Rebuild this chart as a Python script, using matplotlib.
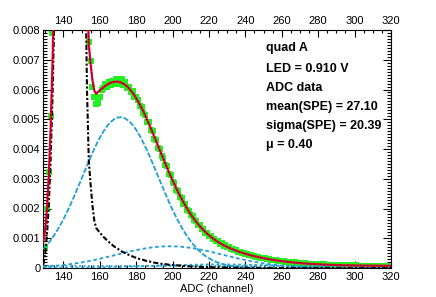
import numpy as np
import matplotlib
matplotlib.use("Agg")
import matplotlib.pyplot as plt
from matplotlib.ticker import MultipleLocator, FuncFormatter

plt.rcParams['font.family'] = ['Liberation Sans', 'DejaVu Sans']

SCALE = 1e-3  # values below are in units of 1e-3

# ---- data histogram (ADC channel, normalized counts) ----
data_x = np.arange(130, 321)
data_y = [
    0.72, 2.0, 3.24, 5.1, 7.9, 9.8, 13.4, 17.2, 22.3, 26.4,
    31.0, 35.2, 37.8, 40.5, 40.6, 40.9, 38.4, 36.1, 31.7, 27.9,
    23.0, 19.2, 13.8, 9.9, 7.6, 6.95, 6.1, 5.75, 5.5, 5.55,
    5.75, 6.0, 6.05, 6.2, 6.1, 6.25, 6.15, 6.3, 6.2, 6.35,
    6.3, 6.2, 6.35, 6.15, 6.25, 6.05, 6.1, 5.9, 5.95, 5.75,
    5.75, 5.65, 5.45, 5.42, 5.2, 5.15, 4.9, 4.9, 4.65, 4.6,
    4.35, 4.3, 4.05, 4.0, 3.75, 3.7, 3.45, 3.42, 3.15, 3.12,
    2.88, 2.85, 2.62, 2.6, 2.4, 2.36, 2.15, 2.14, 1.95, 1.93,
    1.77, 1.74, 1.6, 1.58, 1.45, 1.43, 1.31, 1.3, 1.19, 1.18,
    1.08, 1.08, 0.98, 0.98, 0.9, 0.9, 0.82, 0.83, 0.75, 0.76,
    0.69, 0.7, 0.64, 0.65, 0.59, 0.6, 0.54, 0.55, 0.5, 0.51,
    0.46, 0.47, 0.43, 0.44, 0.4, 0.41, 0.37, 0.38, 0.34, 0.35,
    0.32, 0.33, 0.3, 0.31, 0.28, 0.28, 0.26, 0.26, 0.24, 0.25,
    0.22, 0.23, 0.21, 0.21, 0.2, 0.2, 0.18, 0.19, 0.17, 0.18,
    0.16, 0.17, 0.15, 0.16, 0.14, 0.15, 0.13, 0.14, 0.13, 0.13,
    0.12, 0.13, 0.11, 0.12, 0.11, 0.11, 0.1, 0.11, 0.1, 0.1,
    0.09, 0.1, 0.09, 0.1, 0.09, 0.09, 0.08, 0.09, 0.08, 0.09,
    0.08, 0.09, 0.08, 0.08, 0.08, 0.08, 0.07, 0.08, 0.07, 0.08,
    0.07, 0.08, 0.07, 0.07, 0.07, 0.08, 0.07, 0.07, 0.07, 0.07,
    0.07,
]

# ---- fit curves ----
fit_x = np.concatenate([np.arange(129, 161), np.arange(162, 321, 2)])

pedestal = [
    0.12, 0.45, 1.1, 2.1, 3.6, 5.6, 8.3, 11.8, 16, 20.5, 25, 29, 33, 36, 38, 38.5,
    38, 36, 33, 29, 24.5, 20, 15.5, 10.5, 6.0, 3.6, 2.8, 2.1, 1.6, 1.35, 1.27, 1.19,
    1.05, 0.93, 0.82, 0.72, 0.64, 0.56, 0.50, 0.44, 0.39, 0.34,
    0.30, 0.27, 0.23, 0.21, 0.18, 0.16, 0.14, 0.13, 0.11, 0.10,
    0.09, 0.08, 0.07, 0.06, 0.05, 0.046, 0.041, 0.036, 0.032, 0.028,
    0.025, 0.022, 0.019, 0.017, 0.015, 0.013, 0.012, 0.010, 0.009, 0.008,
    0.007, 0.006, 0.005, 0.005, 0.004, 0.004, 0.003, 0.003, 0.003, 0.002,
    0.002, 0.002, 0.002, 0.001, 0.001, 0.001, 0.001, 0.001, 0.001, 0.001,
    0.001, 0.001, 0.001, 0.0, 0.0, 0.0, 0.0, 0.0, 0.0, 0.0,
    0.0, 0.0, 0.0, 0.0, 0.0, 0.0, 0.0, 0.0, 0.0, 0.0,
]

pe1 = [
    0.641, 0.706, 0.776, 0.850, 0.930, 1.015, 1.105, 1.201, 1.301, 1.407, 1.518,
    1.634, 1.754, 1.879, 2.009, 2.142, 2.279, 2.419, 2.562, 2.707, 2.853, 3.001,
    3.148, 3.296, 3.442, 3.587, 3.729, 3.868, 4.003, 4.133, 4.256, 4.374,
    4.587, 4.767, 4.908, 5.007, 5.060, 5.067, 5.027, 4.942, 4.813, 4.645,
    4.441, 4.208, 3.949, 3.673, 3.384, 3.089, 2.795, 2.504, 2.224, 1.957,
    1.705, 1.473, 1.260, 1.069, 0.898, 0.747, 0.616, 0.503, 0.407, 0.327,
    0.260, 0.204, 0.159, 0.123, 0.094, 0.072, 0.054, 0.040, 0.030, 0.022,
    0.016, 0.011, 0.008, 0.006, 0.004, 0.003, 0.002, 0.001, 0.001, 0.001,
    0, 0, 0, 0, 0, 0, 0, 0, 0, 0,
    0, 0, 0, 0, 0, 0, 0, 0, 0, 0,
    0, 0, 0, 0, 0, 0, 0, 0, 0, 0,
]

pe2 = [
    0.045, 0.049, 0.053, 0.057, 0.062, 0.066, 0.071, 0.077, 0.082, 0.088, 0.095,
    0.102, 0.109, 0.116, 0.124, 0.132, 0.140, 0.149, 0.158, 0.168, 0.178, 0.188,
    0.199, 0.210, 0.222, 0.233, 0.246, 0.258, 0.271, 0.284, 0.297, 0.311,
    0.339, 0.368, 0.398, 0.428, 0.458, 0.488, 0.517, 0.546, 0.574, 0.600,
    0.625, 0.648, 0.668, 0.686, 0.701, 0.713, 0.722, 0.728, 0.730, 0.729,
    0.725, 0.717, 0.706, 0.692, 0.675, 0.656, 0.634, 0.610, 0.585, 0.557,
    0.529, 0.500, 0.470, 0.440, 0.410, 0.380, 0.351, 0.322, 0.295, 0.268,
    0.243, 0.219, 0.197, 0.176, 0.157, 0.139, 0.122, 0.107, 0.094, 0.081,
    0.070, 0.061, 0.052, 0.044, 0.038, 0.032, 0.027, 0.022, 0.019, 0.016,
    0.013, 0.010, 0.008, 0.007, 0.005, 0.004, 0.003, 0.003, 0.002, 0.002,
    0.001, 0.001, 0.001, 0.001, 0.0, 0.0, 0.0, 0.0, 0.0, 0.0,
]

pe3 = [
    0.003, 0.003, 0.004, 0.004, 0.005, 0.005, 0.005, 0.006, 0.006, 0.006, 0.007,
    0.007, 0.008, 0.008, 0.009, 0.009, 0.010, 0.010, 0.011, 0.012, 0.012, 0.013,
    0.014, 0.015, 0.016, 0.017, 0.018, 0.019, 0.020, 0.021, 0.022, 0.023,
    0.026, 0.028, 0.031, 0.034, 0.037, 0.040, 0.044, 0.047, 0.051, 0.054,
    0.058, 0.062, 0.066, 0.070, 0.074, 0.078, 0.082, 0.086, 0.089, 0.093,
    0.096, 0.100, 0.103, 0.106, 0.109, 0.111, 0.114, 0.116, 0.118, 0.119,
    0.120, 0.120, 0.120, 0.120, 0.119, 0.118, 0.117, 0.115, 0.113, 0.111,
    0.108, 0.105, 0.102, 0.099, 0.095, 0.092, 0.088, 0.084, 0.080, 0.076,
    0.072, 0.068, 0.064, 0.060, 0.056, 0.052, 0.048, 0.045, 0.041, 0.038,
    0.035, 0.032, 0.029, 0.026, 0.024, 0.021, 0.019, 0.017, 0.016, 0.014,
    0.013, 0.011, 0.010, 0.009, 0.008, 0.007, 0.006, 0.005, 0.005, 0.004,
]

bkg_x = [129, 320]
bkg_y = [0.07, 0.07]

total = [
    0.879, 1.278, 2.003, 3.081, 4.667, 6.756, 9.551, 13.154, 17.459, 22.071, 26.69,
    30.813, 34.951, 38.073, 40.212, 40.853, 40.499, 38.648, 35.801, 31.957, 27.613,
    23.272, 18.931, 14.091, 9.75, 7.507, 6.863, 6.315, 5.964, 5.858, 5.915, 5.968,
    6.072, 6.163, 6.227, 6.259, 6.265, 6.225, 6.158, 6.045, 5.898, 5.709,
    5.494, 5.258, 4.983, 4.709, 4.409, 4.11, 3.809, 3.518, 3.223, 2.949,
    2.686, 2.44, 2.209, 1.997, 1.802, 1.63, 1.475, 1.335, 1.212, 1.101,
    1.004, 0.916, 0.838, 0.77, 0.708, 0.653, 0.604, 0.557, 0.517, 0.479,
    0.444, 0.411, 0.382, 0.356, 0.33, 0.308, 0.285, 0.265, 0.248, 0.229,
    0.214, 0.201, 0.188, 0.175, 0.165, 0.155, 0.146, 0.138, 0.131, 0.125,
    0.118, 0.112, 0.107, 0.103, 0.099, 0.095, 0.092, 0.09, 0.088, 0.086,
    0.084, 0.082, 0.081, 0.08, 0.078, 0.077, 0.076, 0.075, 0.075, 0.074,
]

info_lines = ["quad A", "LED = 0.910 V", "ADC data", "mean(SPE) = 27.10",
              "sigma(SPE) = 20.39", "\u03bc = 0.40"]

# ---- figure ----
W, H = 436, 297
fig = plt.figure(figsize=(W / 100, H / 100), dpi=100)
ax = fig.add_axes([43.3 / W, 1 - 268 / H, (391 - 43.3) / W, (268 - 30) / H])

def s(v):
    return np.asarray(v, dtype=float) * SCALE

cyan = "#1f9fd4"
ax.plot(data_x, s(data_y), 's', color="#22f022", ms=4.0, mew=0, zorder=2)
ax.plot(fit_x, s(pe1), color=cyan, lw=1.3, ls=(0, (3, 1)), zorder=3)
ax.plot(fit_x, s(pe2), color=cyan, lw=1.3, ls=(0, (2, 1.5)), zorder=3)
ax.plot(fit_x, s(pe3), color=cyan, lw=1.3, ls=(0, (1.5, 1.5)), zorder=3)
ax.plot(bkg_x, s(bkg_y), color=cyan, lw=1.3, ls=(0, (1, 1.5)), zorder=3)
ax.plot(fit_x, s(pedestal), color="black", lw=1.5, ls=(0, (2.5, 1, 1, 1)), zorder=4)
ax.plot(fit_x, s(total), color="red", lw=1.6, zorder=5)
ax.plot(fit_x, s(total), color="blue", lw=0.8, ls=(0, (1, 2)), zorder=6)

ax.set_xlim(129, 320)
ax.set_ylim(0, 0.008)

ax.xaxis.set_major_locator(MultipleLocator(20))
ax.xaxis.set_minor_locator(MultipleLocator(5))
ax.yaxis.set_major_locator(MultipleLocator(0.001))
ax.yaxis.set_minor_locator(MultipleLocator(0.0001))
ax.yaxis.set_major_formatter(FuncFormatter(lambda v, p: "0" if abs(v) < 1e-9 else f"{v:.3f}"))

ax.tick_params(axis='both', which='both', direction='in', top=True, right=True,
               labelsize=8, width=0.8)
ax.tick_params(axis='x', which='major', length=5, pad=3, labeltop=True)
ax.tick_params(axis='x', which='minor', length=2.5)
ax.tick_params(axis='y', which='major', length=6, pad=2)
ax.tick_params(axis='y', which='minor', length=3)
for sp in ax.spines.values():
    sp.set_linewidth(0.8)

ax.set_xlabel("ADC (channel)", fontsize=8, labelpad=1)

ys = [47.7, 69.3, 88.3, 107.3, 126.0, 145.0]
for t, yy in zip(info_lines, ys):
    fig.text(266 / W, 1 - yy / H, t, fontsize=9, fontweight='bold', ha='left', va='center')

fig.savefig("out.png", dpi=100)
